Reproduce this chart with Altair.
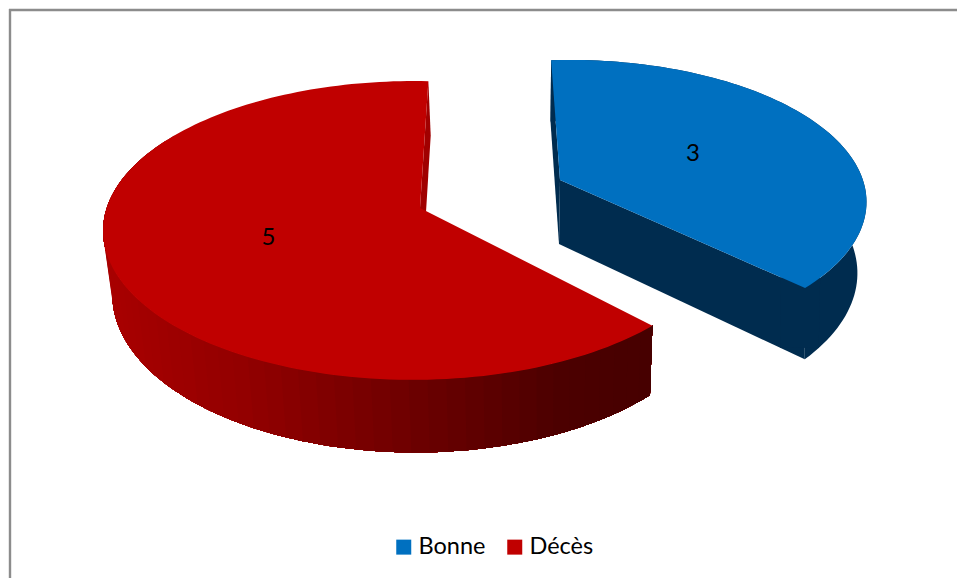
import math
import altair as alt

# Slice values and presentation
names = ["Bonne", "Décès"]
values = [3, 5]
top_colors = ["#0070c0", "#c00000"]

BLUE_WALL = "#002c4f"
RED_SLIVER = "#a00000"
# Shade of the red outer wall, by screen column
RED_SHADE = [(103, (170, 0, 0)), (250, (146, 0, 0)), (400, (112, 0, 0)),
             (560, (76, 0, 0)), (660, (70, 0, 0))]

total = sum(values)
sweeps = [360 * v / total for v in values]


def project(plane, deg, r=1.0):
    """Perspective view of a point on a disc, angle clockwise from the back."""
    cx, cy, a, b, k, m = plane
    t = math.radians(deg)
    den = 1 + k * math.cos(t) + m * math.sin(t)
    return [cx + a * r * math.sin(t) / den, cy - b * r * math.cos(t) / den]


def sweep_angles(start, sweep, n):
    return [start + sweep * i / n for i in range(n + 1)]


def shade(x):
    for (x0, c0), (x1, c1) in zip(RED_SHADE, RED_SHADE[1:]):
        if x <= x1:
            f = max(0.0, (x - x0) / (x1 - x0))
            rgb = [round(p + (q - p) * f) for p, q in zip(c0, c1)]
            return "#%02x%02x%02x" % tuple(rgb)
    return "#%02x%02x%02x" % RED_SHADE[-1][1]


def feature(ring, **props):
    return {"type": "Feature", "properties": props,
            "geometry": {"type": "Polygon", "coordinates": [ring + [ring[0]]]}}


def along(p, q, f):
    return [p[0] + (q[0] - p[0]) * f, p[1] + (q[1] - p[1]) * f]


# Disc planes of each exploded slice: centre, radii, tilt terms
blue_top = (560, 180, 292, 138, 0.15, -0.036)
blue_bot = (559, 244, 290, 146, 0.19, -0.01)
red_top = (420, 208, 307, 146, 0.15, 0.02)
red_bot = (422.5, 270, 300.5, 155, 0.15, 0.02)

blue_start = -2.0
red_start = 1.8

blue_a = sweep_angles(blue_start, sweeps[0], 90)
red_a = sweep_angles(red_start, -sweeps[1], 150)

# Side walls, painted from the back of each slice to the front
walls = []
red_rim_t = [project(red_top, d) for d in red_a]
red_rim_b = [project(red_bot, d) for d in red_a]
walls.append(feature([red_rim_t[0], red_rim_b[0], list(red_bot[:2]), list(red_top[:2])],
                     fill=RED_SLIVER))
# Each band runs on to the slice's far end, so the next band overlaps it without a seam
first_band = 40
for i in range(first_band, len(red_a) - 2, 2):
    ring = red_rim_t[i:] + red_rim_b[i:][::-1]
    walls.append(feature(ring, fill=shade((red_rim_b[i][0] + red_rim_b[i + 2][0]) / 2)))

blue_rim_t = [project(blue_top, d) for d in blue_a]
blue_rim_b = [project(blue_bot, d) for d in blue_a]
apex_t, apex_b = list(blue_top[:2]), list(blue_bot[:2])
walls.append(feature(blue_rim_t + blue_rim_b[::-1], fill=BLUE_WALL))
walls.append(feature([apex_t, blue_rim_t[-1], blue_rim_b[-1], apex_b], fill=BLUE_WALL))
walls.append(feature([apex_t, blue_rim_t[0], blue_rim_b[0], apex_b], fill=BLUE_WALL))
# A patch across the corner where the cut face meets the rim closes the joint
walls.append(feature([along(apex_t, blue_rim_t[-1], 0.9), blue_rim_t[-4],
                      blue_rim_b[-4], along(apex_b, blue_rim_b[-1], 0.9)], fill=BLUE_WALL))

# Upper faces carry the legend colours
faces = [
    feature([apex_t] + blue_rim_t, name=names[0]),
    feature([list(red_top[:2])] + red_rim_t, name=names[1]),
]

# Value labels sit about half way out along each slice's middle angle
lab_b = project(blue_top, blue_start + sweeps[0] / 2, 0.515)
lab_r = project(red_top, red_start - sweeps[1] / 2, 0.49)
labels = [
    {"lon": lab_b[0], "lat": lab_b[1], "value": values[0]},
    {"lon": lab_r[0], "lat": lab_r[1], "value": values[1]},
]

flat = dict(type="identity", scale=1, translate=[0, 0])

wall_layer = (
    alt.Chart(alt.Data(values=walls))
    .mark_geoshape(strokeWidth=0)
    .encode(fill=alt.Fill("properties.fill:N", scale=None))
    .project(**flat)
)

face_layer = (
    alt.Chart(alt.Data(values=faces))
    .mark_geoshape(strokeWidth=0)
    .encode(
        color=alt.Color(
            "properties.name:N",
            scale=alt.Scale(domain=names, range=top_colors),
            sort=names,
            legend=alt.Legend(
                title=None,
                orient="none",
                legendX=392,
                legendY=535,
                direction="horizontal",
                symbolType="square",
                symbolSize=225,
                symbolStrokeWidth=0,
                labelFont="Lato",
                labelFontSize=23.5,
                labelColor="#000000",
                labelOffset=3,
                columnPadding=17,
            ),
        )
    )
    .project(**flat)
)

label_layer = (
    alt.Chart(alt.Data(values=labels))
    .mark_text(font="Lato", fontSize=24, color="#000000", baseline="middle", align="center", dy=3)
    .encode(longitude="lon:Q", latitude="lat:Q", text="value:Q")
    .project(**flat)
)

# Frame: only the top and left edges fall inside the view
frame_src = alt.Data(values=[{"edge": "frame"}])
frame_top = alt.Chart(frame_src).mark_rule(color="#8c8c8c", strokeWidth=2.4).encode(
    x=alt.value(9), x2=alt.value(957), y=alt.value(10)
)
frame_left = alt.Chart(frame_src).mark_rule(color="#8c8c8c", strokeWidth=2.4).encode(
    x=alt.value(10), y=alt.value(9), y2=alt.value(578)
)

chart = (
    alt.layer(frame_top, frame_left, wall_layer, face_layer, label_layer)
    .properties(width=957, height=578, padding=0, background="#ffffff",
                autosize=alt.AutoSizeParams(type="none"))
    .configure_view(stroke=None)
)

chart.save("out.html", embed_options={"renderer": "svg", "actions": False})
